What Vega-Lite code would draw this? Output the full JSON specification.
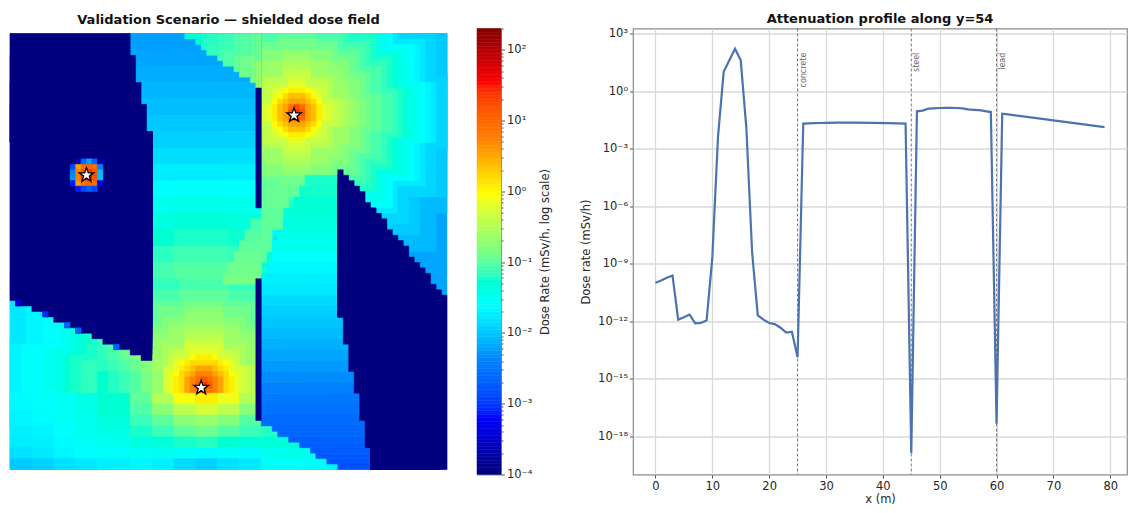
{
"$schema":"https://vega.github.io/schema/vega-lite/v6.json",
"padding":{"left":9,"top":11.5,"right":0,"bottom":0},
"bounds":"flush",
"spacing":30,
"config":{"font":"DejaVu Sans","view":{"stroke":null},"axis":{"labelColor":"#262626","titleColor":"#262626","tickColor":"#555","labelFont":"DejaVu Sans","titleFont":"DejaVu Sans"},"title":{"font":"DejaVu Sans","fontWeight":"bold","fontSize":13,"color":"#111"}},
"datasets":{
"cells":[
{"x":0,"x2":80,"y":0,"y2":80,"v":0.006},
{"x":17,"x2":80,"y":7,"y2":22,"v":0.008},{"x":21,"x2":80,"y":0,"y2":33,"v":0.008},{"x":27,"x2":78,"y":0,"y2":40,"v":0.008},{"x":34,"x2":71,"y":0,"y2":46,"v":0.008},
{"x":22,"x2":80,"y":8,"y2":21,"v":0.01},{"x":25,"x2":80,"y":0,"y2":30,"v":0.01},{"x":30,"x2":75,"y":0,"y2":37,"v":0.01},{"x":37,"x2":68,"y":0,"y2":42,"v":0.01},
{"x":24,"x2":80,"y":8,"y2":21,"v":0.012},{"x":27,"x2":78,"y":0,"y2":30,"v":0.012},{"x":32,"x2":73,"y":0,"y2":35,"v":0.012},{"x":38,"x2":67,"y":0,"y2":40,"v":0.012},
{"x":27,"x2":78,"y":9,"y2":20,"v":0.016},{"x":29,"x2":76,"y":1,"y2":28,"v":0.016},{"x":34,"x2":71,"y":0,"y2":33,"v":0.016},{"x":39,"x2":66,"y":0,"y2":38,"v":0.016},
{"x":0,"x2":75,"y":56,"y2":73,"v":0.016},{"x":0,"x2":71,"y":44,"y2":80,"v":0.016},{"x":7,"x2":64,"y":36,"y2":80,"v":0.016},
{"x":28,"x2":77,"y":9,"y2":20,"v":0.02},{"x":30,"x2":75,"y":2,"y2":27,"v":0.02},{"x":35,"x2":70,"y":0,"y2":32,"v":0.02},{"x":40,"x2":65,"y":0,"y2":37,"v":0.02},
{"x":0,"x2":72,"y":57,"y2":72,"v":0.02},{"x":3,"x2":68,"y":46,"y2":80,"v":0.02},{"x":9,"x2":62,"y":38,"y2":80,"v":0.02},
{"x":29,"x2":76,"y":9,"y2":20,"v":0.024},{"x":31,"x2":74,"y":2,"y2":27,"v":0.024},{"x":35,"x2":70,"y":0,"y2":32,"v":0.024},{"x":40,"x2":65,"y":0,"y2":36,"v":0.024},
{"x":2,"x2":69,"y":57,"y2":72,"v":0.024},{"x":6,"x2":65,"y":47,"y2":80,"v":0.024},{"x":11,"x2":60,"y":40,"y2":80,"v":0.024},
{"x":30,"x2":75,"y":9,"y2":20,"v":0.03},{"x":32,"x2":73,"y":3,"y2":26,"v":0.03},{"x":36,"x2":69,"y":0,"y2":31,"v":0.03},{"x":41,"x2":64,"y":0,"y2":35,"v":0.03},
{"x":6,"x2":65,"y":58,"y2":71,"v":0.03},{"x":9,"x2":62,"y":49,"y2":80,"v":0.03},{"x":14,"x2":57,"y":43,"y2":80,"v":0.03},{"x":20,"x2":51,"y":38,"y2":80,"v":0.03},
{"x":31,"x2":74,"y":10,"y2":19,"v":0.036},{"x":33,"x2":72,"y":3,"y2":26,"v":0.036},{"x":37,"x2":68,"y":0,"y2":30,"v":0.036},{"x":41,"x2":64,"y":0,"y2":34,"v":0.036},
{"x":8,"x2":63,"y":58,"y2":71,"v":0.036},{"x":11,"x2":60,"y":50,"y2":80,"v":0.036},{"x":15,"x2":56,"y":44,"y2":80,"v":0.036},{"x":21,"x2":50,"y":40,"y2":80,"v":0.036},
{"x":32,"x2":73,"y":10,"y2":19,"v":0.045},{"x":34,"x2":71,"y":4,"y2":25,"v":0.045},{"x":38,"x2":67,"y":0,"y2":29,"v":0.045},{"x":42,"x2":63,"y":0,"y2":33,"v":0.045},
{"x":10,"x2":61,"y":59,"y2":70,"v":0.045},{"x":12,"x2":59,"y":51,"y2":78,"v":0.045},{"x":17,"x2":54,"y":46,"y2":80,"v":0.045},{"x":22,"x2":49,"y":41,"y2":80,"v":0.045},
{"x":33,"x2":72,"y":10,"y2":19,"v":0.055},{"x":35,"x2":70,"y":4,"y2":25,"v":0.055},{"x":38,"x2":67,"y":0,"y2":29,"v":0.055},{"x":42,"x2":63,"y":0,"y2":32,"v":0.055},
{"x":11,"x2":60,"y":59,"y2":70,"v":0.055},{"x":14,"x2":57,"y":52,"y2":77,"v":0.055},{"x":18,"x2":53,"y":47,"y2":80,"v":0.055},{"x":23,"x2":48,"y":43,"y2":80,"v":0.055},
{"x":34,"x2":71,"y":10,"y2":19,"v":0.065},{"x":36,"x2":69,"y":5,"y2":24,"v":0.065},{"x":39,"x2":66,"y":1,"y2":28,"v":0.065},{"x":43,"x2":62,"y":0,"y2":31,"v":0.065},
{"x":13,"x2":58,"y":60,"y2":69,"v":0.065},{"x":16,"x2":55,"y":53,"y2":76,"v":0.065},{"x":19,"x2":52,"y":48,"y2":80,"v":0.065},{"x":24,"x2":47,"y":45,"y2":80,"v":0.065},
{"x":35,"x2":70,"y":11,"y2":18,"v":0.08},{"x":37,"x2":68,"y":6,"y2":23,"v":0.08},{"x":40,"x2":65,"y":2,"y2":27,"v":0.08},{"x":44,"x2":61,"y":0,"y2":30,"v":0.08},
{"x":16,"x2":55,"y":60,"y2":69,"v":0.08},{"x":18,"x2":53,"y":54,"y2":75,"v":0.08},{"x":21,"x2":50,"y":50,"y2":79,"v":0.08},{"x":25,"x2":46,"y":47,"y2":80,"v":0.08},{"x":31,"x2":40,"y":45,"y2":80,"v":0.08},
{"x":37,"x2":68,"y":11,"y2":18,"v":0.1},{"x":39,"x2":66,"y":7,"y2":22,"v":0.1},{"x":41,"x2":64,"y":3,"y2":26,"v":0.1},{"x":45,"x2":60,"y":1,"y2":28,"v":0.1},{"x":49,"x2":56,"y":0,"y2":30,"v":0.1},
{"x":18,"x2":53,"y":60,"y2":69,"v":0.1},{"x":20,"x2":51,"y":55,"y2":74,"v":0.1},{"x":23,"x2":48,"y":52,"y2":77,"v":0.1},{"x":26,"x2":45,"y":49,"y2":80,"v":0.1},{"x":31,"x2":40,"y":47,"y2":80,"v":0.1},
{"x":39,"x2":66,"y":11,"y2":18,"v":0.12},{"x":40,"x2":65,"y":7,"y2":22,"v":0.12},{"x":42,"x2":63,"y":4,"y2":25,"v":0.12},{"x":45,"x2":60,"y":2,"y2":27,"v":0.12},{"x":49,"x2":56,"y":1,"y2":28,"v":0.12},
{"x":20,"x2":51,"y":61,"y2":68,"v":0.12},{"x":21,"x2":50,"y":56,"y2":73,"v":0.12},{"x":24,"x2":47,"y":53,"y2":76,"v":0.12},{"x":27,"x2":44,"y":50,"y2":79,"v":0.12},{"x":32,"x2":39,"y":49,"y2":80,"v":0.12},
{"x":40,"x2":65,"y":12,"y2":17,"v":0.15},{"x":41,"x2":64,"y":8,"y2":21,"v":0.15},{"x":43,"x2":62,"y":5,"y2":24,"v":0.15},{"x":46,"x2":59,"y":3,"y2":26,"v":0.15},
{"x":21,"x2":50,"y":61,"y2":68,"v":0.15},{"x":23,"x2":48,"y":57,"y2":72,"v":0.15},{"x":25,"x2":46,"y":54,"y2":75,"v":0.15},{"x":28,"x2":43,"y":52,"y2":77,"v":0.15},{"x":32,"x2":39,"y":50,"y2":79,"v":0.15},
{"x":41,"x2":64,"y":12,"y2":17,"v":0.18},{"x":43,"x2":62,"y":8,"y2":21,"v":0.18},{"x":44,"x2":61,"y":6,"y2":23,"v":0.18},{"x":46,"x2":59,"y":5,"y2":24,"v":0.18},{"x":50,"x2":55,"y":3,"y2":26,"v":0.18},
{"x":22,"x2":49,"y":61,"y2":68,"v":0.18},{"x":24,"x2":47,"y":58,"y2":71,"v":0.18},{"x":26,"x2":45,"y":55,"y2":74,"v":0.18},{"x":29,"x2":42,"y":53,"y2":76,"v":0.18},{"x":32,"x2":39,"y":51,"y2":78,"v":0.18},
{"x":42,"x2":63,"y":12,"y2":17,"v":0.22},{"x":43,"x2":62,"y":9,"y2":20,"v":0.22},{"x":45,"x2":60,"y":7,"y2":22,"v":0.22},{"x":47,"x2":58,"y":5,"y2":24,"v":0.22},{"x":50,"x2":55,"y":4,"y2":25,"v":0.22},
{"x":24,"x2":47,"y":61,"y2":68,"v":0.22},{"x":25,"x2":46,"y":58,"y2":71,"v":0.22},{"x":27,"x2":44,"y":56,"y2":73,"v":0.22},{"x":29,"x2":42,"y":54,"y2":75,"v":0.22},{"x":32,"x2":39,"y":53,"y2":76,"v":0.22},
{"x":43,"x2":62,"y":12,"y2":17,"v":0.27},{"x":46,"x2":59,"y":8,"y2":21,"v":0.27},{"x":50,"x2":55,"y":5,"y2":24,"v":0.27},
{"x":25,"x2":46,"y":61,"y2":68,"v":0.27},{"x":28,"x2":43,"y":57,"y2":72,"v":0.27},{"x":32,"x2":39,"y":54,"y2":75,"v":0.27},
{"x":44,"x2":61,"y":12,"y2":17,"v":0.33},{"x":46,"x2":59,"y":9,"y2":20,"v":0.33},{"x":47,"x2":58,"y":8,"y2":21,"v":0.33},{"x":50,"x2":55,"y":6,"y2":23,"v":0.33},
{"x":26,"x2":45,"y":61,"y2":68,"v":0.33},{"x":29,"x2":42,"y":58,"y2":71,"v":0.33},{"x":32,"x2":39,"y":55,"y2":74,"v":0.33},
{"x":45,"x2":60,"y":12,"y2":17,"v":0.4},{"x":47,"x2":58,"y":9,"y2":20,"v":0.4},{"x":50,"x2":55,"y":7,"y2":22,"v":0.4},
{"x":27,"x2":44,"y":61,"y2":68,"v":0.4},{"x":29,"x2":42,"y":59,"y2":70,"v":0.4},{"x":30,"x2":41,"y":58,"y2":71,"v":0.4},{"x":32,"x2":39,"y":56,"y2":73,"v":0.4},
{"x":46,"x2":59,"y":13,"y2":16,"v":0.5},{"x":48,"x2":57,"y":10,"y2":19,"v":0.5},{"x":51,"x2":54,"y":8,"y2":21,"v":0.5},
{"x":28,"x2":43,"y":61,"y2":68,"v":0.5},{"x":30,"x2":41,"y":59,"y2":70,"v":0.5},{"x":32,"x2":39,"y":57,"y2":72,"v":0.5},
{"x":47,"x2":58,"y":13,"y2":16,"v":0.65},{"x":48,"x2":57,"y":11,"y2":18,"v":0.65},{"x":49,"x2":56,"y":10,"y2":19,"v":0.65},{"x":51,"x2":54,"y":9,"y2":20,"v":0.65},
{"x":29,"x2":42,"y":62,"y2":67,"v":0.65},{"x":30,"x2":41,"y":60,"y2":69,"v":0.65},{"x":33,"x2":38,"y":58,"y2":71,"v":0.65},
{"x":48,"x2":57,"y":12,"y2":17,"v":0.85},{"x":49,"x2":56,"y":11,"y2":18,"v":0.85},{"x":50,"x2":55,"y":10,"y2":19,"v":0.85},
{"x":30,"x2":41,"y":62,"y2":67,"v":0.85},{"x":31,"x2":40,"y":60,"y2":69,"v":0.85},{"x":33,"x2":38,"y":59,"y2":70,"v":0.85},
{"x":48,"x2":57,"y":13,"y2":16,"v":1.1},{"x":49,"x2":56,"y":12,"y2":17,"v":1.1},{"x":50,"x2":55,"y":11,"y2":18,"v":1.1},{"x":51,"x2":54,"y":10,"y2":19,"v":1.1},
{"x":30,"x2":41,"y":63,"y2":66,"v":1.1},{"x":31,"x2":40,"y":61,"y2":68,"v":1.1},{"x":32,"x2":39,"y":60,"y2":69,"v":1.1},{"x":34,"x2":37,"y":59,"y2":70,"v":1.1},
{"x":49,"x2":56,"y":12,"y2":17,"v":1.5},{"x":50,"x2":55,"y":11,"y2":18,"v":1.5},
{"x":31,"x2":40,"y":62,"y2":67,"v":1.5},{"x":32,"x2":39,"y":61,"y2":68,"v":1.5},{"x":33,"x2":38,"y":60,"y2":69,"v":1.5},
{"x":49,"x2":56,"y":13,"y2":16,"v":2.2},{"x":50,"x2":55,"y":12,"y2":17,"v":2.2},{"x":51,"x2":54,"y":11,"y2":18,"v":2.2},
{"x":32,"x2":39,"y":62,"y2":67,"v":2.2},{"x":33,"x2":38,"y":61,"y2":68,"v":2.2},
{"x":50,"x2":55,"y":13,"y2":16,"v":3.2},{"x":51,"x2":54,"y":12,"y2":17,"v":3.2},
{"x":32,"x2":39,"y":63,"y2":66,"v":3.2},{"x":33,"x2":38,"y":62,"y2":67,"v":3.2},{"x":34,"x2":37,"y":61,"y2":68,"v":3.2},
{"x":33,"x2":38,"y":63,"y2":66,"v":5},{"x":34,"x2":37,"y":62,"y2":67,"v":5},
{"x":51,"x2":54,"y":13,"y2":16,"v":8},{"x":34,"x2":37,"y":63,"y2":66,"v":8},
{"x":51,"x2":54,"y":14,"y2":15,"v":14},{"x":52,"x2":53,"y":13,"y2":16,"v":14},{"x":34,"x2":37,"y":64,"y2":65,"v":14},{"x":35,"x2":36,"y":63,"y2":66,"v":14},
{"x":52,"x2":53,"y":14,"y2":15,"v":25},{"x":35,"x2":36,"y":64,"y2":65,"v":25},

{"x":22,"x2":46,"y":0,"y2":3,"v":0.0055},{"x":22,"x2":46,"y":3,"y2":6,"v":0.006},{"x":22,"x2":46,"y":6,"y2":9,"v":0.0067},{"x":22,"x2":46,"y":9,"y2":12,"v":0.0076},{"x":22,"x2":46,"y":12,"y2":15,"v":0.0085},{"x":22,"x2":46,"y":15,"y2":18,"v":0.0098},{"x":22,"x2":46,"y":18,"y2":21,"v":0.0112},{"x":22,"x2":46,"y":21,"y2":24,"v":0.0135},{"x":22,"x2":46,"y":24,"y2":27,"v":0.017},
{"x":22,"x2":30,"y":27,"y2":30,"v":0.023},{"x":30,"x2":40,"y":27,"y2":30,"v":0.025},{"x":40,"x2":46,"y":27,"y2":30,"v":0.024},
{"x":22,"x2":30,"y":30,"y2":33,"v":0.031},{"x":30,"x2":40,"y":30,"y2":33,"v":0.034},{"x":40,"x2":46,"y":30,"y2":33,"v":0.032},
{"x":22,"x2":30,"y":33,"y2":36,"v":0.04},{"x":30,"x2":40,"y":33,"y2":36,"v":0.044},{"x":40,"x2":46,"y":33,"y2":36,"v":0.042},
{"x":22,"x2":30,"y":36,"y2":39,"v":0.05},{"x":30,"x2":40,"y":36,"y2":39,"v":0.056},{"x":40,"x2":46,"y":36,"y2":39,"v":0.052},
{"x":22,"x2":30,"y":39,"y2":42,"v":0.062},{"x":30,"x2":40,"y":39,"y2":42,"v":0.072},{"x":40,"x2":46,"y":39,"y2":42,"v":0.066},
{"x":22,"x2":30,"y":42,"y2":45,"v":0.078},{"x":30,"x2":40,"y":42,"y2":45,"v":0.09},{"x":40,"x2":46,"y":42,"y2":45,"v":0.085},

{"x":32,"x2":34,"y":0,"y2":1,"v":0.05},{"x":34,"x2":35,"y":0,"y2":2,"v":0.05},{"x":35,"x2":36,"y":0,"y2":3,"v":0.055},
{"x":36,"x2":38,"y":0,"y2":2,"v":0.06},{"x":36,"x2":38,"y":2,"y2":4,"v":0.065},
{"x":38,"x2":39,"y":0,"y2":3,"v":0.065},{"x":38,"x2":39,"y":3,"y2":5,"v":0.075},
{"x":39,"x2":41,"y":0,"y2":3,"v":0.07},{"x":39,"x2":41,"y":3,"y2":6,"v":0.085},
{"x":41,"x2":42,"y":0,"y2":4,"v":0.085},{"x":41,"x2":42,"y":4,"y2":7,"v":0.105},
{"x":42,"x2":44,"y":0,"y2":4,"v":0.09},{"x":42,"x2":44,"y":4,"y2":8,"v":0.12},
{"x":44,"x2":45,"y":0,"y2":4,"v":0.1},{"x":44,"x2":45,"y":4,"y2":9,"v":0.13},
{"x":45,"x2":46,"y":0,"y2":5,"v":0.11},{"x":45,"x2":46,"y":5,"y2":10,"v":0.19},

{"x":44,"x2":46,"y":34,"y2":36,"v":0.08},{"x":43,"x2":46,"y":36,"y2":38,"v":0.09},{"x":42,"x2":46,"y":38,"y2":40,"v":0.1},{"x":41,"x2":46,"y":40,"y2":42,"v":0.11},{"x":40,"x2":46,"y":42,"y2":44,"v":0.12},{"x":39,"x2":46,"y":44,"y2":46,"v":0.13},
{"x":46,"x2":51,"y":28,"y2":32,"v":0.11},{"x":46,"x2":50,"y":32,"y2":36,"v":0.1},{"x":46,"x2":48,"y":36,"y2":40,"v":0.1},{"x":46,"x2":47,"y":40,"y2":42,"v":0.095},

{"x":16,"x2":18,"y":60,"y2":62,"v":0.06},{"x":18,"x2":20,"y":60,"y2":62,"v":0.07},{"x":20,"x2":22,"y":60,"y2":62,"v":0.085},{"x":22,"x2":24,"y":60,"y2":62,"v":0.11},{"x":24,"x2":26,"y":60,"y2":62,"v":0.15},{"x":26,"x2":28,"y":60,"y2":62,"v":0.23},
{"x":16,"x2":18,"y":62,"y2":66,"v":0.05},{"x":18,"x2":20,"y":62,"y2":66,"v":0.058},{"x":20,"x2":22,"y":62,"y2":66,"v":0.07},{"x":22,"x2":24,"y":62,"y2":66,"v":0.09},{"x":24,"x2":26,"y":62,"y2":66,"v":0.13},{"x":26,"x2":28,"y":62,"y2":66,"v":0.2},

{"x":0,"x2":4,"y":66,"y2":69,"v":0.022},{"x":4,"x2":8,"y":66,"y2":69,"v":0.024},{"x":8,"x2":12,"y":66,"y2":69,"v":0.028},{"x":12,"x2":16,"y":66,"y2":69,"v":0.036},
{"x":0,"x2":4,"y":69,"y2":72,"v":0.02},{"x":4,"x2":8,"y":69,"y2":72,"v":0.022},{"x":8,"x2":12,"y":69,"y2":72,"v":0.027},{"x":12,"x2":16,"y":69,"y2":72,"v":0.032},
{"x":16,"x2":22,"y":66,"y2":68,"v":0.05},{"x":22,"x2":26,"y":66,"y2":68,"v":0.1},{"x":26,"x2":30,"y":66,"y2":68,"v":0.3},{"x":30,"x2":34,"y":66,"y2":68,"v":0.8},{"x":34,"x2":38,"y":66,"y2":68,"v":1.1},{"x":38,"x2":42,"y":66,"y2":68,"v":0.7},{"x":42,"x2":46,"y":66,"y2":68,"v":0.3},
{"x":16,"x2":22,"y":68,"y2":70,"v":0.05},{"x":22,"x2":26,"y":68,"y2":70,"v":0.085},{"x":26,"x2":30,"y":68,"y2":70,"v":0.17},{"x":30,"x2":34,"y":68,"y2":70,"v":0.35},{"x":34,"x2":38,"y":68,"y2":70,"v":0.5},{"x":38,"x2":42,"y":68,"y2":70,"v":0.35},{"x":42,"x2":46,"y":68,"y2":70,"v":0.16},
{"x":16,"x2":22,"y":70,"y2":72,"v":0.042},{"x":22,"x2":26,"y":70,"y2":72,"v":0.07},{"x":26,"x2":30,"y":70,"y2":72,"v":0.1},{"x":30,"x2":34,"y":70,"y2":72,"v":0.17},{"x":34,"x2":38,"y":70,"y2":72,"v":0.2},{"x":38,"x2":42,"y":70,"y2":72,"v":0.15},{"x":42,"x2":46,"y":70,"y2":72,"v":0.09},
{"x":0,"x2":4,"y":72,"y2":74,"v":0.018},{"x":4,"x2":8,"y":72,"y2":74,"v":0.02},{"x":8,"x2":12,"y":72,"y2":74,"v":0.024},{"x":12,"x2":16,"y":72,"y2":74,"v":0.03},{"x":16,"x2":22,"y":72,"y2":74,"v":0.036},{"x":22,"x2":26,"y":72,"y2":74,"v":0.055},{"x":26,"x2":30,"y":72,"y2":74,"v":0.07},{"x":30,"x2":34,"y":72,"y2":74,"v":0.1},{"x":34,"x2":38,"y":72,"y2":74,"v":0.12},{"x":38,"x2":42,"y":72,"y2":74,"v":0.09},{"x":42,"x2":46,"y":72,"y2":74,"v":0.07},{"x":46,"x2":50,"y":72,"y2":74,"v":0.06},
{"x":0,"x2":4,"y":74,"y2":76,"v":0.017},{"x":4,"x2":8,"y":74,"y2":76,"v":0.018},{"x":8,"x2":12,"y":74,"y2":76,"v":0.022},{"x":12,"x2":16,"y":74,"y2":76,"v":0.026},{"x":16,"x2":22,"y":74,"y2":76,"v":0.03},{"x":22,"x2":26,"y":74,"y2":76,"v":0.04},{"x":26,"x2":30,"y":74,"y2":76,"v":0.045},{"x":30,"x2":34,"y":74,"y2":76,"v":0.055},{"x":34,"x2":38,"y":74,"y2":76,"v":0.06},{"x":38,"x2":42,"y":74,"y2":76,"v":0.05},{"x":42,"x2":46,"y":74,"y2":76,"v":0.045},{"x":46,"x2":50,"y":74,"y2":76,"v":0.045},{"x":50,"x2":54,"y":74,"y2":76,"v":0.045},
{"x":0,"x2":4,"y":76,"y2":78,"v":0.014},{"x":4,"x2":8,"y":76,"y2":78,"v":0.016},{"x":8,"x2":12,"y":76,"y2":78,"v":0.02},{"x":12,"x2":16,"y":76,"y2":78,"v":0.023},{"x":16,"x2":22,"y":76,"y2":78,"v":0.025},{"x":22,"x2":26,"y":76,"y2":78,"v":0.028},{"x":26,"x2":30,"y":76,"y2":78,"v":0.03},{"x":30,"x2":34,"y":76,"y2":78,"v":0.028},{"x":34,"x2":38,"y":76,"y2":78,"v":0.022},{"x":38,"x2":42,"y":76,"y2":78,"v":0.026},{"x":42,"x2":46,"y":76,"y2":78,"v":0.022},{"x":46,"x2":50,"y":76,"y2":78,"v":0.03},{"x":50,"x2":54,"y":76,"y2":78,"v":0.035},{"x":54,"x2":58,"y":76,"y2":78,"v":0.03},
{"x":0,"x2":4,"y":78,"y2":80,"v":0.01},{"x":4,"x2":8,"y":78,"y2":80,"v":0.011},{"x":8,"x2":12,"y":78,"y2":80,"v":0.014},{"x":12,"x2":16,"y":78,"y2":80,"v":0.016},{"x":16,"x2":22,"y":78,"y2":80,"v":0.018},{"x":22,"x2":26,"y":78,"y2":80,"v":0.02},{"x":26,"x2":30,"y":78,"y2":80,"v":0.018},{"x":30,"x2":34,"y":78,"y2":80,"v":0.013},{"x":34,"x2":38,"y":78,"y2":80,"v":0.011},{"x":38,"x2":42,"y":78,"y2":80,"v":0.014},{"x":42,"x2":46,"y":78,"y2":80,"v":0.016},{"x":46,"x2":50,"y":78,"y2":80,"v":0.026},{"x":50,"x2":54,"y":78,"y2":80,"v":0.024},{"x":54,"x2":58,"y":78,"y2":80,"v":0.022},{"x":58,"x2":62,"y":78,"y2":80,"v":0.02},

{"x":54,"x2":60,"y":26,"y2":28,"v":0.055},{"x":53,"x2":60,"y":28,"y2":30,"v":0.053},{"x":52,"x2":60,"y":30,"y2":32,"v":0.047},{"x":51,"x2":60,"y":32,"y2":34,"v":0.044},{"x":50,"x2":60,"y":34,"y2":36,"v":0.04},{"x":49,"x2":60,"y":36,"y2":38,"v":0.035},{"x":48,"x2":60,"y":38,"y2":40,"v":0.03},{"x":48,"x2":60,"y":40,"y2":42,"v":0.024},{"x":47,"x2":60,"y":42,"y2":44,"v":0.021},{"x":46,"x2":60,"y":44,"y2":46,"v":0.018},{"x":46,"x2":60,"y":46,"y2":48,"v":0.016},{"x":46,"x2":60,"y":48,"y2":50,"v":0.013},{"x":46,"x2":60,"y":50,"y2":52,"v":0.011},
{"x":46,"x2":67,"y":52,"y2":54,"v":0.0095},{"x":46,"x2":67,"y":54,"y2":56,"v":0.0082},{"x":46,"x2":67,"y":56,"y2":58,"v":0.007},{"x":46,"x2":67,"y":58,"y2":60,"v":0.006},{"x":46,"x2":67,"y":60,"y2":62,"v":0.0052},{"x":46,"x2":67,"y":62,"y2":64,"v":0.0045},{"x":46,"x2":67,"y":64,"y2":66,"v":0.0038},{"x":46,"x2":67,"y":66,"y2":68,"v":0.0033},{"x":46,"x2":67,"y":68,"y2":70,"v":0.0028},{"x":46,"x2":67,"y":70,"y2":72,"v":0.0024},
{"x":48,"x2":67,"y":72,"y2":73,"v":0.0022},{"x":49,"x2":67,"y":73,"y2":74,"v":0.0021},{"x":51,"x2":67,"y":74,"y2":75,"v":0.0019},{"x":53,"x2":67,"y":75,"y2":76,"v":0.0018},{"x":55,"x2":67,"y":76,"y2":77,"v":0.0017},{"x":56,"x2":67,"y":77,"y2":78,"v":0.0016},{"x":58,"x2":67,"y":78,"y2":79,"v":0.0015},{"x":60,"x2":67,"y":79,"y2":80,"v":0.0014},

{"x":0,"x2":22,"y":0,"y2":49,"v":0.0001},{"x":1,"x2":26,"y":18,"y2":50,"v":0.0001},{"x":4,"x2":26,"y":18,"y2":51,"v":0.0001},{"x":6,"x2":26,"y":18,"y2":52,"v":0.0001},{"x":8,"x2":26,"y":18,"y2":53,"v":0.0001},{"x":10,"x2":26,"y":18,"y2":54,"v":0.0001},{"x":12,"x2":26,"y":18,"y2":55,"v":0.0001},{"x":15,"x2":26,"y":18,"y2":56,"v":0.0001},{"x":17,"x2":26,"y":18,"y2":57,"v":0.0001},{"x":19,"x2":26,"y":18,"y2":58,"v":0.0001},{"x":22,"x2":26,"y":18,"y2":59,"v":0.0001},{"x":24,"x2":26,"y":18,"y2":60,"v":0.0001},
{"x":0,"x2":23,"y":4,"y2":20,"v":0.0001},{"x":0,"x2":24,"y":9,"y2":20,"v":0.0001},{"x":0,"x2":25,"y":13,"y2":20,"v":0.0001},
{"x":1,"x2":2,"y":49,"y2":50,"v":0.0004},{"x":6,"x2":7,"y":51,"y2":52,"v":0.0008},{"x":10,"x2":11,"y":53,"y2":54,"v":0.002},{"x":12,"x2":13,"y":54,"y2":55,"v":0.002},{"x":19,"x2":20,"y":57,"y2":58,"v":0.002},

{"x":60,"x2":61,"y":25,"y2":52,"v":0.0001},{"x":60,"x2":62,"y":26,"y2":52,"v":0.0001},{"x":60,"x2":63,"y":27,"y2":52,"v":0.0001},{"x":60,"x2":64,"y":28,"y2":52,"v":0.0001},{"x":60,"x2":65,"y":29,"y2":52,"v":0.0001},{"x":60,"x2":66,"y":31,"y2":52,"v":0.0001},{"x":60,"x2":67,"y":32,"y2":52,"v":0.0001},
{"x":61,"x2":67,"y":50,"y2":57,"v":0.0001},{"x":62,"x2":67,"y":50,"y2":62,"v":0.0001},{"x":63,"x2":67,"y":50,"y2":66,"v":0.0001},{"x":64,"x2":67,"y":50,"y2":71,"v":0.0001},{"x":65,"x2":67,"y":50,"y2":76,"v":0.0001},
{"x":66,"x2":67,"y":32,"y2":80,"v":0.0001},{"x":66,"x2":68,"y":33,"y2":80,"v":0.0001},{"x":66,"x2":69,"y":34,"y2":80,"v":0.0001},{"x":66,"x2":70,"y":36,"y2":80,"v":0.0001},{"x":66,"x2":71,"y":37,"y2":80,"v":0.0001},{"x":66,"x2":72,"y":38,"y2":80,"v":0.0001},{"x":66,"x2":73,"y":39,"y2":80,"v":0.0001},{"x":66,"x2":74,"y":41,"y2":80,"v":0.0001},{"x":66,"x2":75,"y":42,"y2":80,"v":0.0001},{"x":66,"x2":76,"y":43,"y2":80,"v":0.0001},{"x":66,"x2":77,"y":44,"y2":80,"v":0.0001},{"x":66,"x2":78,"y":46,"y2":80,"v":0.0001},{"x":66,"x2":79,"y":47,"y2":80,"v":0.0001},{"x":66,"x2":80,"y":48,"y2":80,"v":0.0001},
{"x":45,"x2":46,"y":10,"y2":32,"v":0.0001},{"x":45,"x2":46,"y":45,"y2":71,"v":0.0001},

{"x":12,"x2":13,"y":23,"y2":24,"v":0.0002},{"x":13,"x2":14,"y":23,"y2":24,"v":0.002},{"x":14,"x2":15,"y":23,"y2":24,"v":0.006},{"x":15,"x2":16,"y":23,"y2":24,"v":0.002},{"x":16,"x2":17,"y":23,"y2":24,"v":0.0002},
{"x":11,"x2":12,"y":24,"y2":25,"v":0.0012},{"x":12,"x2":13,"y":24,"y2":25,"v":3.5},{"x":13,"x2":14,"y":24,"y2":25,"v":8},{"x":14,"x2":15,"y":24,"y2":25,"v":10},{"x":15,"x2":16,"y":24,"y2":25,"v":8},{"x":16,"x2":17,"y":24,"y2":25,"v":0.004},
{"x":11,"x2":12,"y":25,"y2":26,"v":0.004},{"x":12,"x2":13,"y":25,"y2":26,"v":5},{"x":13,"x2":14,"y":25,"y2":26,"v":14},{"x":14,"x2":15,"y":25,"y2":26,"v":25},{"x":15,"x2":16,"y":25,"y2":26,"v":14},{"x":16,"x2":17,"y":25,"y2":26,"v":0.009},
{"x":11,"x2":12,"y":26,"y2":27,"v":0.005},{"x":12,"x2":13,"y":26,"y2":27,"v":5},{"x":13,"x2":14,"y":26,"y2":27,"v":25},{"x":14,"x2":15,"y":26,"y2":27,"v":40},{"x":15,"x2":16,"y":26,"y2":27,"v":14},{"x":16,"x2":17,"y":26,"y2":27,"v":0.009},
{"x":11,"x2":12,"y":27,"y2":28,"v":0.0007},{"x":12,"x2":13,"y":27,"y2":28,"v":3.5},{"x":13,"x2":14,"y":27,"y2":28,"v":8},{"x":14,"x2":15,"y":27,"y2":28,"v":10},{"x":15,"x2":16,"y":27,"y2":28,"v":8},{"x":16,"x2":17,"y":27,"y2":28,"v":0.0005},
{"x":12,"x2":13,"y":28,"y2":29,"v":0.0007},{"x":13,"x2":14,"y":28,"y2":29,"v":0.0012},{"x":14,"x2":15,"y":28,"y2":29,"v":0.002},{"x":15,"x2":16,"y":28,"y2":29,"v":0.0012}
],
"sources":[{"x":14,"y":26},{"x":52,"y":15},{"x":35,"y":65}],
"bar":[
{"v":0.0001,"v2":0.0001122},{"v":0.0001122,"v2":0.0001259},{"v":0.0001259,"v2":0.0001413},{"v":0.0001413,"v2":0.0001585},{"v":0.0001585,"v2":0.0001778},{"v":0.0001778,"v2":0.0001995},{"v":0.0001995,"v2":0.0002239},{"v":0.0002239,"v2":0.0002512},{"v":0.0002512,"v2":0.0002818},{"v":0.0002818,"v2":0.0003162},{"v":0.0003162,"v2":0.0003548},{"v":0.0003548,"v2":0.0003981},{"v":0.0003981,"v2":0.0004467},{"v":0.0004467,"v2":0.0005012},{"v":0.0005012,"v2":0.0005623},{"v":0.0005623,"v2":0.000631},{"v":0.000631,"v2":0.0007079},{"v":0.0007079,"v2":0.0007943},{"v":0.0007943,"v2":0.0008913},{"v":0.0008913,"v2":0.001},
{"v":0.001,"v2":0.001122},{"v":0.001122,"v2":0.001259},{"v":0.001259,"v2":0.001413},{"v":0.001413,"v2":0.001585},{"v":0.001585,"v2":0.001778},{"v":0.001778,"v2":0.001995},{"v":0.001995,"v2":0.002239},{"v":0.002239,"v2":0.002512},{"v":0.002512,"v2":0.002818},{"v":0.002818,"v2":0.003162},{"v":0.003162,"v2":0.003548},{"v":0.003548,"v2":0.003981},{"v":0.003981,"v2":0.004467},{"v":0.004467,"v2":0.005012},{"v":0.005012,"v2":0.005623},{"v":0.005623,"v2":0.00631},{"v":0.00631,"v2":0.007079},{"v":0.007079,"v2":0.007943},{"v":0.007943,"v2":0.008913},{"v":0.008913,"v2":0.01},
{"v":0.01,"v2":0.01122},{"v":0.01122,"v2":0.01259},{"v":0.01259,"v2":0.01413},{"v":0.01413,"v2":0.01585},{"v":0.01585,"v2":0.01778},{"v":0.01778,"v2":0.01995},{"v":0.01995,"v2":0.02239},{"v":0.02239,"v2":0.02512},{"v":0.02512,"v2":0.02818},{"v":0.02818,"v2":0.03162},{"v":0.03162,"v2":0.03548},{"v":0.03548,"v2":0.03981},{"v":0.03981,"v2":0.04467},{"v":0.04467,"v2":0.05012},{"v":0.05012,"v2":0.05623},{"v":0.05623,"v2":0.0631},{"v":0.0631,"v2":0.07079},{"v":0.07079,"v2":0.07943},{"v":0.07943,"v2":0.08913},{"v":0.08913,"v2":0.1},
{"v":0.1,"v2":0.1122},{"v":0.1122,"v2":0.1259},{"v":0.1259,"v2":0.1413},{"v":0.1413,"v2":0.1585},{"v":0.1585,"v2":0.1778},{"v":0.1778,"v2":0.1995},{"v":0.1995,"v2":0.2239},{"v":0.2239,"v2":0.2512},{"v":0.2512,"v2":0.2818},{"v":0.2818,"v2":0.3162},{"v":0.3162,"v2":0.3548},{"v":0.3548,"v2":0.3981},{"v":0.3981,"v2":0.4467},{"v":0.4467,"v2":0.5012},{"v":0.5012,"v2":0.5623},{"v":0.5623,"v2":0.631},{"v":0.631,"v2":0.7079},{"v":0.7079,"v2":0.7943},{"v":0.7943,"v2":0.8913},{"v":0.8913,"v2":1},
{"v":1,"v2":1.122},{"v":1.122,"v2":1.259},{"v":1.259,"v2":1.413},{"v":1.413,"v2":1.585},{"v":1.585,"v2":1.778},{"v":1.778,"v2":1.995},{"v":1.995,"v2":2.239},{"v":2.239,"v2":2.512},{"v":2.512,"v2":2.818},{"v":2.818,"v2":3.162},{"v":3.162,"v2":3.548},{"v":3.548,"v2":3.981},{"v":3.981,"v2":4.467},{"v":4.467,"v2":5.012},{"v":5.012,"v2":5.623},{"v":5.623,"v2":6.31},{"v":6.31,"v2":7.079},{"v":7.079,"v2":7.943},{"v":7.943,"v2":8.913},{"v":8.913,"v2":10},
{"v":10,"v2":11.22},{"v":11.22,"v2":12.59},{"v":12.59,"v2":14.13},{"v":14.13,"v2":15.85},{"v":15.85,"v2":17.78},{"v":17.78,"v2":19.95},{"v":19.95,"v2":22.39},{"v":22.39,"v2":25.12},{"v":25.12,"v2":28.18},{"v":28.18,"v2":31.62},{"v":31.62,"v2":35.48},{"v":35.48,"v2":39.81},{"v":39.81,"v2":44.67},{"v":44.67,"v2":50.12},{"v":50.12,"v2":56.23},{"v":56.23,"v2":63.1},{"v":63.1,"v2":70.79},{"v":70.79,"v2":79.43},{"v":79.43,"v2":89.13},{"v":89.13,"v2":100},
{"v":100,"v2":112.2},{"v":112.2,"v2":125.9},{"v":125.9,"v2":141.3},{"v":141.3,"v2":158.5},{"v":158.5,"v2":177.8},{"v":177.8,"v2":200}
],
"profile":[
{"x":0,"v":1e-10},{"x":1,"v":1.3e-10},{"x":2,"v":1.8e-10},{"x":3,"v":2.4e-10},{"x":4,"v":1.2e-12},{"x":5,"v":1.6e-12},{"x":6,"v":2.2e-12},{"x":7,"v":7.6e-13},{"x":8,"v":8e-13},{"x":9,"v":1.1e-12},{"x":10,"v":2e-9},{"x":11,"v":0.004},{"x":12,"v":10},{"x":13,"v":40},{"x":14,"v":160},{"x":15,"v":40},{"x":16,"v":0.011},{"x":17,"v":4e-9},{"x":18,"v":2e-12},{"x":19,"v":1.2e-12},{"x":20,"v":8e-13},{"x":21,"v":7e-13},{"x":22,"v":4.5e-13},{"x":23,"v":2.5e-13},{"x":24,"v":2.8e-13},{"x":25,"v":1.3e-14},
{"x":26,"v":0.02},{"x":27,"v":0.0205},{"x":28,"v":0.021},{"x":29,"v":0.0215},{"x":30,"v":0.022},{"x":32,"v":0.0225},{"x":35,"v":0.0225},{"x":38,"v":0.022},{"x":41,"v":0.021},{"x":44,"v":0.02},{"x":45,"v":1.3e-19},
{"x":46,"v":0.087},{"x":47,"v":0.095},{"x":48,"v":0.12},{"x":49,"v":0.125},{"x":50,"v":0.13},{"x":51,"v":0.132},{"x":52,"v":0.132},{"x":53,"v":0.13},{"x":54,"v":0.125},{"x":55,"v":0.11},{"x":56,"v":0.105},{"x":57,"v":0.1},{"x":58,"v":0.09},{"x":59,"v":0.08},{"x":60,"v":4.4e-18},
{"x":61,"v":0.066},{"x":62,"v":0.06},{"x":63,"v":0.055},{"x":64,"v":0.05},{"x":65,"v":0.046},{"x":66,"v":0.042},{"x":67,"v":0.0385},{"x":68,"v":0.035},{"x":69,"v":0.032},{"x":70,"v":0.0295},{"x":71,"v":0.027},{"x":72,"v":0.0245},{"x":73,"v":0.0225},{"x":74,"v":0.0205},{"x":75,"v":0.0188},{"x":76,"v":0.0172},{"x":77,"v":0.0157},{"x":78,"v":0.0143},{"x":79,"v":0.0132}
],
"walls":[{"x":25,"name":"concrete","y":100},{"x":45,"name":"steel","y":100},{"x":60,"name":"lead","y":100}]
},
"hconcat":[
{
"width":437,"height":446,
"title":{"text":"Validation Scenario — shielded dose field","offset":1.5},
"layer":[
{"data":{"name":"cells"},"mark":{"type":"rect","strokeWidth":0.5},
"encoding":{
"x":{"field":"x","type":"quantitative","scale":{"domain":[0,80],"nice":false,"zero":false},"axis":null},
"x2":{"field":"x2"},
"y":{"field":"y","type":"quantitative","scale":{"domain":[80.92,-0.92],"nice":false,"zero":false},"axis":null},
"y2":{"field":"y2"},
"color":{"field":"v","type":"quantitative","legend":null,"scale":{"type":"log","domain":[0.0001,0.000613,0.00376,0.02306,0.1414,0.867,5.317,32.6,200],"range":["#00007f","#0000ff","#007fff","#00ffff","#7fff7f","#ffff00","#ff7f00","#ff0000","#7f0000"],"clamp":true}},
"stroke":{"field":"v","type":"quantitative","legend":null,"scale":{"type":"log","domain":[0.0001,0.000613,0.00376,0.02306,0.1414,0.867,5.317,32.6,200],"range":["#00007f","#0000ff","#007fff","#00ffff","#7fff7f","#ffff00","#ff7f00","#ff0000","#7f0000"],"clamp":true}}
}},
{"data":{"name":"sources"},"mark":{"type":"point","filled":true,"fill":"white","stroke":"black","strokeWidth":1.3,"opacity":1,"size":230,"shape":"M0,-1L0.24,-0.31L0.95,-0.31L0.38,0.12L0.59,0.81L0,0.38L-0.59,0.81L-0.38,0.12L-0.95,-0.31L-0.24,-0.31Z"},
"encoding":{"x":{"field":"x","type":"quantitative"},"y":{"field":"y","type":"quantitative"}}}
]
},
{
"width":24,"height":446,
"view":{"stroke":"#888"},
"data":{"name":"bar"},
"mark":{"type":"rect","strokeWidth":0.5},
"encoding":{
"y":{"field":"v","type":"quantitative","scale":{"type":"log","domain":[0.0001,200],"nice":false},
"axis":{"orient":"right","title":"Dose Rate (mSv/h, log scale)","titleAngle":270,"titleFontSize":11.5,"titleFontWeight":"normal","titlePadding":19,"labelFontSize":11.5,"grid":false,"domain":false,
"values":[0.0001,0.0002,0.0003,0.0004,0.0005,0.0006,0.0007,0.0008,0.0009,0.001,0.002,0.003,0.004,0.005,0.006,0.007,0.008,0.009,0.01,0.02,0.03,0.04,0.05,0.06,0.07,0.08,0.09,0.1,0.2,0.3,0.4,0.5,0.6,0.7,0.8,0.9,1,2,3,4,5,6,7,8,9,10,20,30,40,50,60,70,80,90,100,200],
"tickSize":{"condition":{"test":"abs(log(datum.value)/LN10-round(log(datum.value)/LN10))<0.01","value":3.5},"value":2},
"labelExpr":"abs(log(datum.value)/LN10-round(log(datum.value)/LN10))<0.01?'10'+{'-4':'⁻⁴','-3':'⁻³','-2':'⁻²','-1':'⁻¹','0':'⁰','1':'¹','2':'²'}[''+round(log(datum.value)/LN10)]:''"}},
"y2":{"field":"v2"},
"color":{"field":"v","type":"quantitative","legend":null,"scale":{"type":"log","domain":[0.0001,0.000613,0.00376,0.02306,0.1414,0.867,5.317,32.6,200],"range":["#00007f","#0000ff","#007fff","#00ffff","#7fff7f","#ffff00","#ff7f00","#ff0000","#7f0000"]}},
"stroke":{"field":"v","type":"quantitative","legend":null,"scale":{"type":"log","domain":[0.0001,0.000613,0.00376,0.02306,0.1414,0.867,5.317,32.6,200],"range":["#00007f","#0000ff","#007fff","#00ffff","#7fff7f","#ffff00","#ff7f00","#ff0000","#7f0000"]}}
}
},
{
"width":72,"height":446,
"data":{"values":[{"a":1}]},
"mark":{"type":"rect","opacity":0},
"encoding":{}
},
{
"width":494,"height":446,
"view":{"stroke":"#8c8c8c","strokeWidth":1.2},
"title":{"text":"Attenuation profile along y=54","offset":1.5},
"layer":[
{"data":{"name":"walls"},"mark":{"type":"rule","color":"#777","strokeDash":[3,2],"strokeWidth":1},
"encoding":{"x":{"field":"x","type":"quantitative"}}},
{"data":{"name":"walls"},"mark":{"type":"text","angle":270,"align":"right","baseline":"middle","dy":6,"fontSize":8,"color":"#666"},
"encoding":{"x":{"field":"x","type":"quantitative"},"y":{"field":"y","type":"quantitative"},"text":{"field":"name"}}},
{"data":{"name":"profile"},"mark":{"type":"line","color":"#4c72b0","strokeWidth":2.2},
"encoding":{
"x":{"field":"x","type":"quantitative","title":"x (m)","scale":{"domain":[-3.95,82.95],"nice":false,"zero":false},
"axis":{"values":[0,10,20,30,40,50,60,70,80],"grid":true,"gridColor":"#d9d9d9","gridWidth":1.3,"domain":false,"tickSize":3.5,"labelFontSize":11.5,"titleFontSize":11.5,"titleFontWeight":"normal","titlePadding":2,"labelAngle":0}},
"y":{"field":"v","type":"quantitative","title":"Dose rate (mSv/h)","scale":{"type":"log","domain":[1e-20,1820],"nice":false},
"axis":{"values":[1000,1,0.001,1e-6,1e-9,1e-12,1e-15,1e-18],"grid":true,"gridColor":"#d9d9d9","gridWidth":1.3,"domain":false,"tickSize":3.5,"labelFontSize":11.5,"titleFontSize":11.5,"titleFontWeight":"normal","titlePadding":6,
"labelExpr":"'10'+{'3':'³','0':'⁰','-3':'⁻³','-6':'⁻⁶','-9':'⁻⁹','-12':'⁻¹²','-15':'⁻¹⁵','-18':'⁻¹⁸'}[''+round(log(datum.value)/LN10)]"}}
}}
]
}
]
}
